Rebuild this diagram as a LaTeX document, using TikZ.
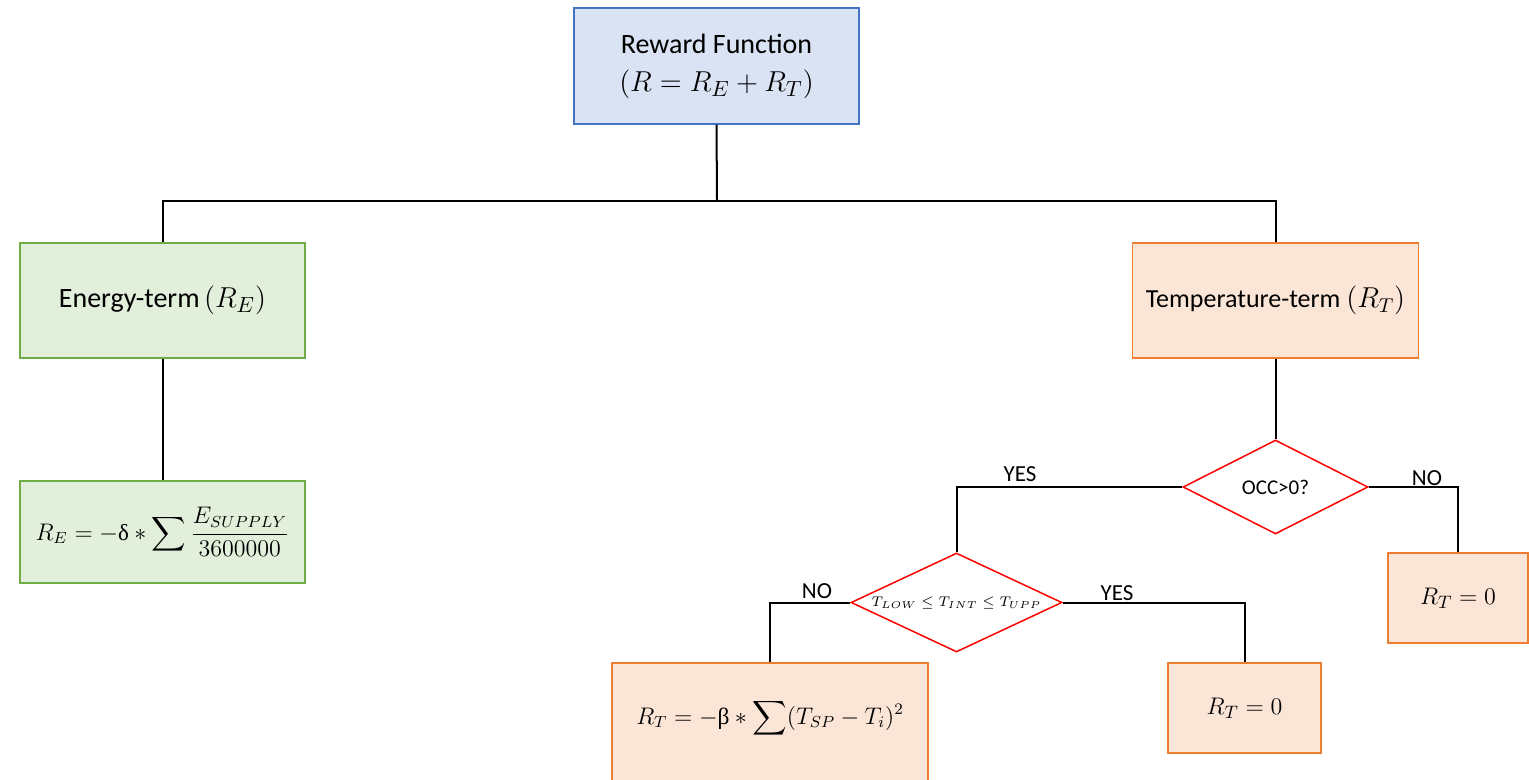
\documentclass[tikz,border=0pt]{standalone}
\usepackage{amsmath}
\usepackage{fontspec}
\setmainfont{Carlito}
\newfontfamily\greekserif{Liberation Serif}
\usetikzlibrary{shapes.geometric}
\definecolor{blueF}{HTML}{DAE3F3}
\definecolor{blueD}{HTML}{4472C4}
\definecolor{greenF}{HTML}{E2EFDA}
\definecolor{greenD}{HTML}{70AD47}
\definecolor{orangeF}{HTML}{FBE5D6}
\definecolor{orangeD}{HTML}{ED7D31}
\tikzset{
  bluebox/.style={draw=blueD,fill=blueF,line width=0.75pt,inner sep=0pt,align=center},
  greenbox/.style={draw=greenD,fill=greenF,line width=0.75pt,inner sep=0pt,align=center},
  orangebox/.style={draw=orangeD,fill=orangeF,line width=0.75pt,inner sep=0pt,align=center},
  decision/.style={draw=red,fill=white,diamond,line width=0.75pt,inner sep=0pt},
  conn/.style={draw=black,line width=1pt},
  lbl/.style={font=\fontsize{11.5}{13}\selectfont,inner sep=0pt}
}
\begin{document}
\begin{tikzpicture}[x=0.5pt,y=-0.5pt]
\clip (0,0) rectangle (1529,780);
\useasboundingbox (0,0) rectangle (1529,780);
\fill[white] (0,0) rectangle (1529,780);

\coordinate (bus) at (717,201);

\node[bluebox,minimum width=142.5pt,minimum height=58pt,font=\fontsize{14}{18}\selectfont] (reward) at (716.5,66)
  {Reward Function\\[1pt] \fontsize{15}{18}\selectfont$(R = R_E + R_T)$};
\node[greenbox,minimum width=142.5pt,minimum height=57.5pt,font=\fontsize{14}{17}\selectfont] (energy) at (162.5,300.5)
  {Energy-term\,{\fontsize{15}{17}\selectfont$(R_E)$}};
\node[greenbox,minimum width=142.5pt,minimum height=51pt,font=\fontsize{11.5}{14}\selectfont] (re) at (162.5,532)
  {$R_E = -\mbox{\greekserif δ} * \displaystyle\sum \frac{E_{SUPPLY}}{3600000}$};
\node[orangebox,minimum width=143pt,minimum height=57.5pt,font=\fontsize{13}{16}\selectfont] (temp) at (1275.5,300.5)
  {Temperature-term {\fontsize{14}{16}\selectfont$(R_T)$}};

\node[decision,aspect=2,minimum width=92.5pt,minimum height=47pt,font=\fontsize{10.5}{12}\selectfont] (occ) at (1275.5,487) {OCC>0?};
\node[decision,aspect=2.3,inner xsep=-14pt,minimum width=105.5pt,minimum height=49.5pt,font=\fontsize{7.3}{9}\selectfont] (tint) at (956.5,602.5)
  {$T_{LOW} \leq T_{INT} \leq T_{UPP}$};

\node[orangebox,minimum width=70pt,minimum height=45pt,font=\fontsize{13}{14}\selectfont] (rt0a) at (1458,598) {$R_T = 0$};
\node[orangebox,minimum width=76.5pt,minimum height=45pt,font=\fontsize{13}{14}\selectfont] (rt0b) at (1244.5,708) {$R_T = 0$};
\node[orangebox,minimum width=158pt,minimum height=65pt] (rtsum) at (770,728) {};
\node[inner sep=0pt,font=\fontsize{11.7}{14}\selectfont] (rtsumtxt) at (770,718)
  {$R_T = -\mbox{\greekserif β} * \displaystyle\sum (T_{SP} - T_i)^2$};

\draw[conn] (reward.south) -- (bus);
\draw[conn] (energy.north) -- (energy.north |- bus) -- (temp.north |- bus) -- (temp.north);
\draw[conn] (energy.south) -- (re.north);
\draw[conn] (temp.south) -- (occ.north);
\draw[conn] (occ.west) -| (tint.north);
\draw[conn] (occ.east) -| (rt0a.north);
\draw[conn] (tint.west) -| (rtsum.north);
\draw[conn] (tint.east) -| (rt0b.north);

\node[lbl] (yes1) at (1020,474) {YES};
\node[lbl] (no1) at (1427,478) {NO};
\node[lbl] (no2) at (817,591) {NO};
\node[lbl] (yes2) at (1117,593) {YES};
\end{tikzpicture}
\end{document}
